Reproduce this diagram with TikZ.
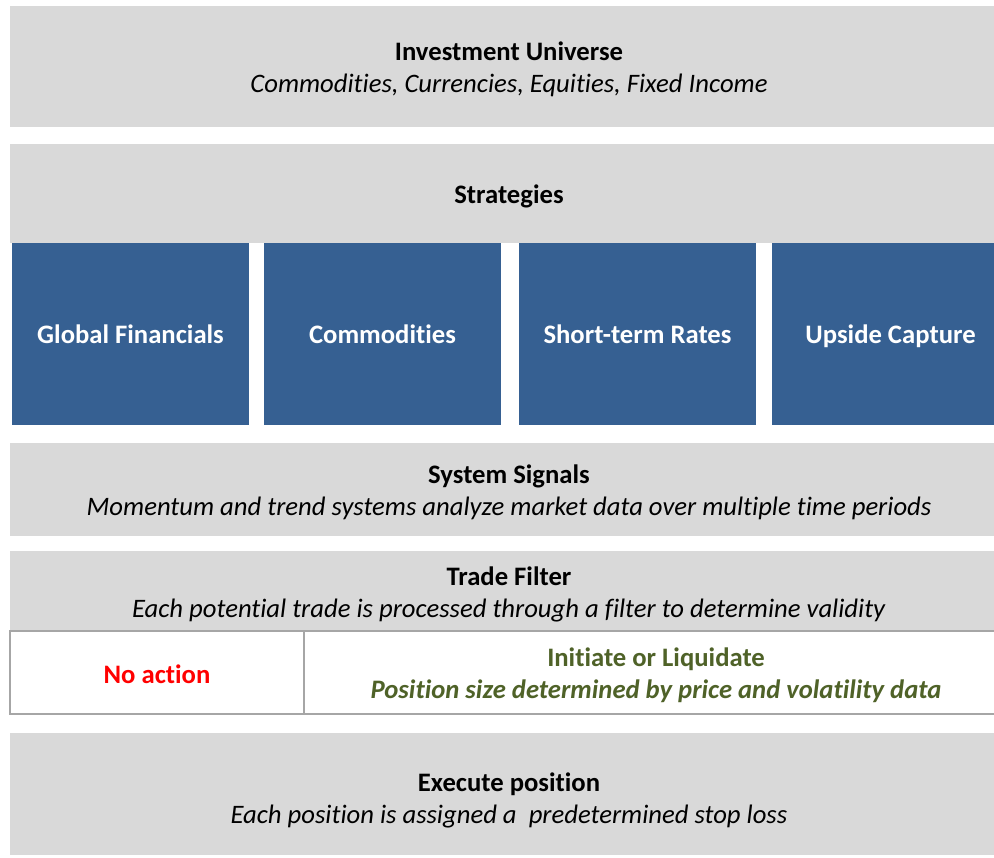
\documentclass[tikz,border=0pt]{standalone}
\usepackage{fontspec}
\setmainfont{Carlito}[Ligatures=NoCommon]
\usepackage{tikz}
\usetikzlibrary{positioning}
\definecolor{panel}{HTML}{D9D9D9}
\definecolor{navy}{HTML}{366092}
\definecolor{rule}{HTML}{A6A6A6}
\definecolor{olive}{HTML}{4F6228}
\definecolor{alert}{HTML}{FF0000}
\newcommand\boxfont{\fontsize{20}{24}\selectfont}
\tikzset{
  panel/.style={fill=panel, inner sep=0pt, outer sep=0pt, anchor=north west, minimum width=748.5pt},
  strat/.style={fill=navy, text=white, inner sep=0pt, outer sep=0pt, anchor=north west, font=\boxfont\bfseries,
    text height=16pt, text depth=2pt, minimum width=177.75pt, minimum height=136.5pt},
  cell/.style={draw=rule, fill=white, line width=1.5pt, inner sep=0pt, outer sep=0pt, anchor=north west, minimum height=62.25pt},
  lab/.style={inner sep=0pt, align=center, font=\boxfont},
}

\begin{document}
\begin{tikzpicture}[x=0.75pt, y=-0.75pt]
  \clip (0,0) rectangle (994,857);

  \node[panel, minimum height=90.75pt] (univ) at (10,6) {};
  \node[lab] (univtxt) at (509,69.5)
    {\textbf{Investment Universe}\\\textit{Commodities, Currencies, Equities, Fixed Income}};
  \node[panel, minimum height=74.25pt] (strats) at (10,144) {};
  \node[lab] (stratstxt) at (509,196.5) {\textbf{Strategies}};

  % strategy blocks
  \node[strat] (gf) at (12,243) {Global Financials};
  \node[strat, right=11.25pt of gf] (comm) {Commodities};
  \node[strat, right=13.5pt of comm] (str) {Short-term Rates};
  \node[strat, right=12pt of str] (upc) {Upside Capture};

  \node[panel, minimum height=69.75pt] (signals) at (10,443) {};
  \node[lab] (signalstxt) at (509,492.5)
    {\textbf{System Signals}\\\textit{Momentum and trend systems analyze market data over multiple time periods}};
  \node[panel, minimum height=60pt] (filter) at (10,551) {};
  \node[lab] (filtertxt) at (509,594)
    {\textbf{Trade Filter}\\\textit{Each potential trade is processed through a filter to determine validity}};

  % filter outcome
  \node[cell, minimum width=220.5pt] (noact) at (10,631) {};
  \node[cell, minimum width=528pt] (initiate) at (noact.north east) {};
  \node[lab, text=alert, font=\boxfont\bfseries] (noacttxt) at (157,674) {No action};
  \node[lab, text=olive, font=\boxfont\bfseries] (initiatetxt) at (656,675.5)
    {Initiate or Liquidate\\\textit{Position size determined by price and volatility data}};

  \node[panel, minimum height=91.5pt] (execute) at (10,733) {};
  \node[lab] (executetxt) at (509,800.5)
    {\textbf{Execute position}\\\textit{Each position is assigned a~ predetermined stop loss}};
\end{tikzpicture}
\end{document}
